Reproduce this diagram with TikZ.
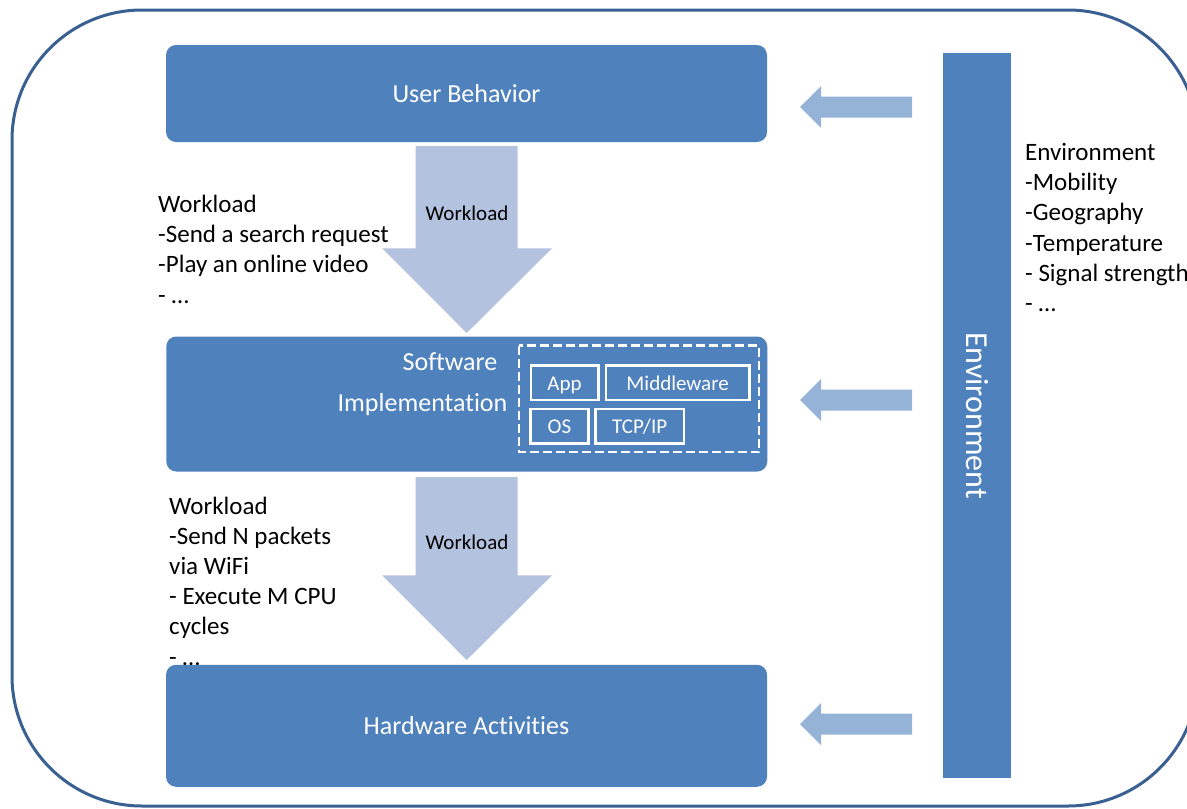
\documentclass[tikz,border=0pt]{standalone}
\usepackage{fontspec}
\setmainfont{Carlito}[Ligatures=NoCommon]
\definecolor{boxblue}{RGB}{79,129,189}
\definecolor{bigarrow}{RGB}{179,194,222}
\definecolor{smallarrow}{RGB}{149,179,215}
\definecolor{framecol}{RGB}{58,96,146}
\begin{document}
\begin{tikzpicture}[x=1pt,y=-1pt,
  blk/.style={fill=boxblue, draw=none, rounded corners=10pt, inner sep=0pt,
    minimum width=601pt, text=white, font=\fontsize{26}{31}\selectfont},
  blktext/.style={text=white, font=\fontsize{26}{31}\selectfont, inner sep=0pt},
  inbox/.style={draw=white, line width=2.5pt, text=white, inner sep=0pt,
    text height=15pt, text depth=0.7pt, font=\fontsize{21}{25}\selectfont},
  note/.style={align=left, anchor=north west, inner sep=0pt,
    font=\fontsize{25}{30.2}\selectfont},
  arrtext/.style={font=\fontsize{21}{25}\selectfont, inner sep=0pt},
  bigarr/.style={fill=bigarrow, draw=none},
  smallarr/.style={fill=smallarrow, draw=none}]
\useasboundingbox (0,0) rectangle (1187,809);

% outer frame
\draw[framecol, line width=3pt, rounded corners=130pt] (12,10) rectangle (1198,806);

% side notes
\node[note] (wl1) at (158,195) {Workload\\-Send a search request\\-Play an online video\\- …};
\node[note] (wl2) at (169,496.5) {Workload\\-Send N packets\\via WiFi\\- Execute M CPU\\cycles\\- …};
\node[note] (envnote) at (1025,143) {Environment\\-Mobility\\-Geography\\-Temperature\\- Signal strength\\- …};

% main boxes
\node[blk, minimum height=97pt] (ub) at (466.5,93.5) {User Behavior};
\node[blk, minimum height=135pt] (sw) at (466.75,404) {};
\node[blk, minimum height=122pt] (hw) at (466.5,725.75) {Hardware Activities};

% software text
\node[blktext, anchor=base] (swt1) at (450,370) {Software};
\node[blktext, anchor=base] (swt2) at (422.5,411.7) {Implementation};

% dashed group and inner boxes
\draw[white, line width=2.5pt, dash pattern=on 9pt off 4pt] (519,345.5) rectangle (759,452);
\node[inbox, minimum width=67.5pt, minimum height=34.3pt] (app) at (564.5,382.85) {App};
\node[inbox, minimum width=143.3pt, minimum height=34.3pt] (mw) at (677.65,382.85) {Middleware};
\node[inbox, minimum width=57.6pt, minimum height=34.3pt] (os) at (559.5,426.15) {OS};
\node[inbox, minimum width=88.7pt, minimum height=34.3pt] (tcp) at (639.65,426.15) {TCP/IP};

% environment bar
\node[fill=boxblue, rotate=-90, minimum width=725pt, minimum height=68pt, inner sep=0pt,
  text=white, font=\fontsize{32}{38}\selectfont] (env) at (977,415.5) {Environment};

% big workload arrows
\fill[bigarr] (415.7,146) -- (517.7,146) -- (517.7,248.3) -- (552,248.3) -- (466.7,333)
  -- (382.3,248.3) -- (415.7,248.3) -- cycle;
\node[arrtext] (a1t) at (467,213) {Workload};
\fill[bigarr] (415.7,477) -- (517.7,477) -- (517.7,575.3) -- (552,575.3) -- (466.7,660)
  -- (382.3,575.3) -- (415.7,575.3) -- cycle;
\node[arrtext] (a2t) at (467,542) {Workload};

% small environment arrows
\foreach \c in {107,400,724}{
  \fill[smallarr] (800,\c) -- (821,\c-21) -- (821,\c-10.5) -- (912,\c-10.5)
    -- (912,\c+10.5) -- (821,\c+10.5) -- (821,\c+21) -- cycle;
}
\end{tikzpicture}
\end{document}
